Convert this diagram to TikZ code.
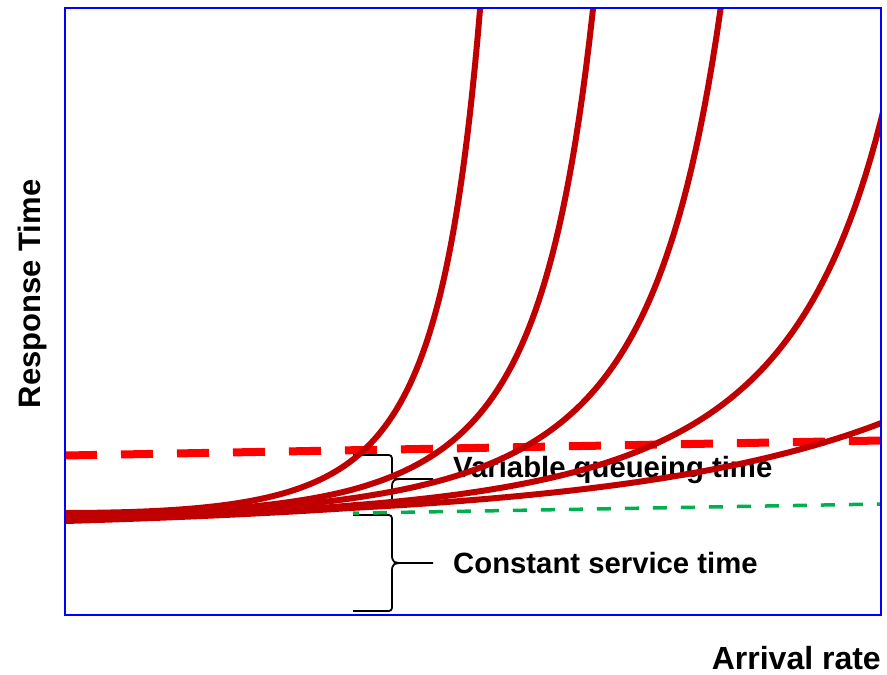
\documentclass[tikz,border=0pt]{standalone}
\usepackage{fontspec}
\setmainfont{Liberation Sans}
\definecolor{queue}{HTML}{C00000}
\definecolor{limitred}{HTML}{FF0000}
\definecolor{service}{HTML}{00B050}
\definecolor{frameblue}{HTML}{0000FF}
\begin{document}
\begin{tikzpicture}[x=1pt,y=-1pt,
  curve/.style={draw=queue,line width=6pt,line join=round,samples=160},
  limitline/.style={draw=limitred,line width=8pt,dash pattern=on 32pt off 24pt},
  serviceline/.style={draw=service,line width=3.5pt,dash pattern=on 14pt off 14pt},
  bracepath/.style={draw=black,line width=1.8pt,line join=round},
  label/.style={font=\bfseries\fontsize{29.3}{34}\selectfont,inner sep=0pt,anchor=base west},
  axislabel/.style={font=\bfseries\fontsize{31}{36}\selectfont,inner sep=0pt},
  declare function={
    base(\x)=517-0.016*(\x-65);
    qg(\u,\p)=pow(1-\u,-\p)-1-\p*\u;
    lift(\x)=max(0,(350-\x)/285);
  }]

\useasboundingbox (0,0) rectangle (887,675);

% axis titles
\node[axislabel,font=\bfseries\fontsize{32}{37}\selectfont,anchor=base east] (xlab) at (881,669) {Arrival rate};
\node[axislabel,anchor=base,rotate=90] (ylab) at (40,294) {Response Time};

% region labels
\node[label] (varq) at (453,477) {Variable queueing time};
\node[label] (consts) at (453,573) {Constant service time};

% braces
\path (353,455) coordinate (ub1) (353,503) coordinate (ub2) (433,479) coordinate (ubtip);
\path (353,515) coordinate (lb1) (353,611) coordinate (lb2) (433,563) coordinate (lbtip);
\draw[bracepath] (ub1) -- (385,455) .. controls (392,455) .. (392,462) -- (392,470)
  .. controls (392,479) and (394,479) .. (404,479) -- (ubtip);
\draw[bracepath] (ub2) -- (385,503) .. controls (392,503) .. (392,496) -- (392,488)
  .. controls (392,479) and (394,479) .. (404,479);
\draw[bracepath] (lb1) -- (385,515) .. controls (392,515) .. (392,522) -- (392,554)
  .. controls (392,563) and (394,563) .. (404,563) -- (lbtip);
\draw[bracepath] (lb2) -- (385,611) .. controls (392,611) .. (392,604) -- (392,572)
  .. controls (392,563) and (394,563) .. (404,563);

% reference lines and response curves, kept inside the plot area
\begin{scope}
\clip (65,8) rectangle (881,615);
\path (353,513.2) coordinate (svcL) (881,504) coordinate (svcR);
\draw[serviceline,dash phase=8pt] (svcL) -- (svcR);
\path (65,455.5) coordinate (limL) (881,440.5) coordinate (limR);
\draw[limitline] (limL) -- (limR);

% response time curves, lightest load to heaviest
\draw[curve] plot[domain=60:886] (\x,{base(\x)-32.4*qg((\x-65)/1535,2)+4*lift(\x)});
\draw[curve] plot[domain=60:886] (\x,{base(\x)-19.43*qg((\x-65)/1035,2)+2*lift(\x)});
\draw[curve] plot[domain=60:725] (\x,{base(\x)-10.72*qg((\x-15.5)/892.5,2.5)});
\draw[curve] plot[domain=60:596] (\x,{base(\x)-10.72*qg((\x-53.6)/682.5,2.5)-2*lift(\x)});
\draw[curve] plot[domain=60:483] (\x,{base(\x)-10.72*qg((\x-65)/525,2.5)-4*lift(\x)});
\end{scope}

% plot frame
\draw[frameblue,line width=2.5pt] (65,8) rectangle (881,615);
\end{tikzpicture}
\end{document}
